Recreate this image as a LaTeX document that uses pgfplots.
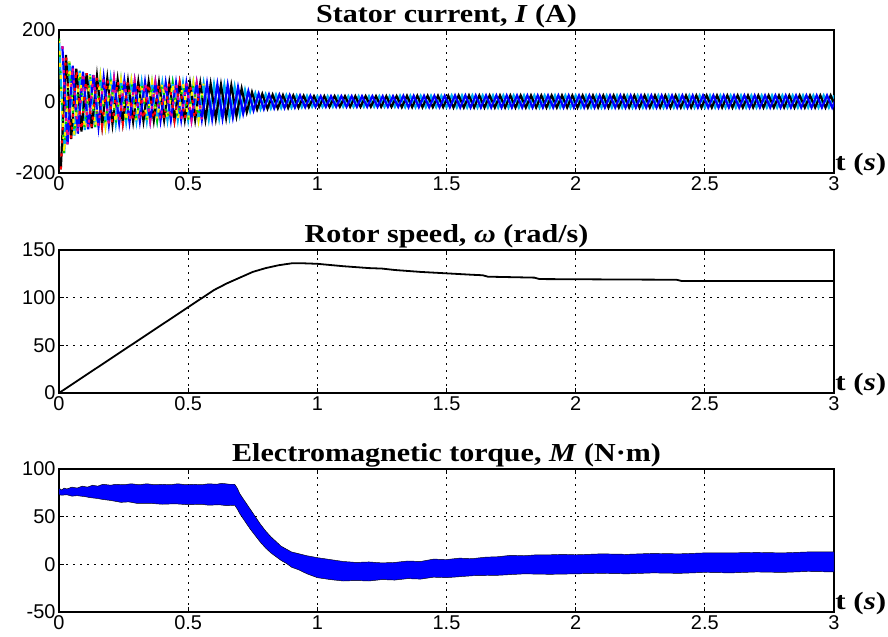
\documentclass[border=0pt]{standalone}
\usepackage{pgfplots}
\pgfplotsset{compat=1.18}
\usepackage{pgfplotstable}
\usepackage{fontspec}
\setmainfont{Liberation Serif}
\setsansfont{Liberation Sans}

% stator current, three phases: ta a tb b tc c
\pgfplotstableread[row sep=\\]{
ta a tb b tc c\\
0.00 175 0.013 155 0.007 -190\\ 0.02 -145 0.033 -120 0.027 130\\ 0.04 112 0.053 100 0.047 -105\\
0.06 -95 0.073 -90 0.067 92\\ 0.08 86 0.093 83 0.087 -84\\ 0.10 -80 0.113 -78 0.107 79\\
0.12 76 0.133 74 0.127 -75\\ 0.14 -72 0.153 -70 0.147 71\\ 0.16 68 0.173 67 0.167 -67\\
0.18 -65 0.193 -64 0.187 65\\ 0.20 63 0.213 62 0.207 -63\\ 0.22 -61 0.233 -60 0.227 61\\
0.24 59 0.253 58 0.247 -59\\ 0.26 -57 0.273 -57 0.267 57\\ 0.28 56 0.293 56 0.287 -56\\
0.30 -55 0.313 -55 0.307 55\\ 0.32 54 0.333 54 0.327 -54\\ 0.34 -54 0.353 -54 0.347 54\\
0.36 53 0.373 53 0.367 -53\\ 0.38 -53 0.393 -53 0.387 53\\ 0.40 52 0.413 52 0.407 -52\\
0.42 -52 0.433 -52 0.427 52\\ 0.44 52 0.453 52 0.447 -52\\ 0.46 -51 0.473 -51 0.467 51\\
0.48 51 0.493 51 0.487 -51\\ 0.50 -51 0.513 -51 0.507 51\\ 0.52 51 0.533 51 0.527 -51\\
0.54 -51 0.553 -50 0.547 51\\ 0.56 50 0.573 50 0.567 -50\\ 0.58 -49 0.593 -49 0.587 49\\
0.60 48 0.613 48 0.607 -48\\ 0.62 -47 0.633 -47 0.627 47\\ 0.64 46 0.653 46 0.647 -46\\
0.66 -45 0.673 -44 0.667 45\\ 0.68 42 0.693 40 0.687 -41\\ 0.70 -38 0.713 -34 0.707 36\\
0.72 32 0.733 29 0.727 -30\\ 0.74 -27 0.753 -25 0.747 26\\ 0.76 23 0.773 22 0.767 -22\\
0.78 -21 0.793 -21 0.787 21\\ 0.80 20 0.813 20 0.807 -20\\ 0.82 -19 0.833 -19 0.827 19\\
0.84 19 0.853 19 0.847 -19\\ 0.86 -18 0.873 -18 0.867 18\\ 0.88 18 0.893 18 0.887 -18\\
0.90 -17 0.913 -17 0.907 17\\ 0.92 17 0.933 17 0.927 -17\\ 0.94 -16 0.953 -16 0.947 16\\
0.96 16 0.973 16 0.967 -16\\ 0.98 -15 0.993 -15 0.987 15\\ 1.00 15 1.013 15 1.007 -15\\
1.02 -15 1.033 -15 1.027 15\\ 1.04 15 1.053 15 1.047 -15\\ 1.06 -15 1.073 -15 1.067 15\\
1.08 15 1.093 15 1.087 -15\\ 1.10 -15 1.113 -15 1.107 15\\ 1.12 15 1.133 15 1.127 -15\\
1.14 -15 1.153 -15 1.147 15\\ 1.16 15 1.173 15 1.167 -15\\ 1.18 -15 1.193 -15 1.187 15\\
1.20 15 1.213 15 1.207 -15\\ 1.22 -15 1.233 -15 1.227 15\\ 1.24 15 1.253 15 1.247 -15\\
1.26 -15 1.273 -15 1.267 15\\ 1.28 15 1.293 15 1.287 -15\\ 1.30 -15 1.313 -15 1.307 15\\
1.32 16 1.333 16 1.327 -16\\ 1.34 -16 1.353 -16 1.347 16\\ 1.36 16 1.373 16 1.367 -16\\
1.38 -16 1.393 -16 1.387 16\\ 1.40 16 1.413 16 1.407 -16\\ 1.42 -16 1.433 -16 1.427 16\\
1.44 16 1.453 16 1.447 -16\\ 1.46 -16 1.473 -16 1.467 16\\ 1.48 16 1.493 16 1.487 -16\\
1.50 -16 1.513 -16 1.507 16\\ 1.52 17 1.533 17 1.527 -17\\ 1.54 -17 1.553 -17 1.547 17\\
1.56 17 1.573 17 1.567 -17\\ 1.58 -17 1.593 -17 1.587 17\\ 1.60 17 1.613 17 1.607 -17\\
1.62 -17 1.633 -17 1.627 17\\ 1.64 17 1.653 17 1.647 -17\\ 1.66 -17 1.673 -17 1.667 17\\
1.68 17 1.693 17 1.687 -17\\ 1.70 -17 1.713 -17 1.707 17\\ 1.72 17 1.733 17 1.727 -17\\
1.74 -17 1.753 -17 1.747 17\\ 1.76 17 1.773 17 1.767 -17\\ 1.78 -17 1.793 -17 1.787 17\\
1.80 17 1.813 17 1.807 -17\\ 1.82 -17 1.833 -17 1.827 17\\ 1.84 17 1.853 17 1.847 -17\\
1.86 -17 1.873 -17 1.867 17\\ 1.88 17 1.893 17 1.887 -17\\ 1.90 -17 1.913 -17 1.907 17\\
1.92 17 1.933 17 1.927 -17\\ 1.94 -17 1.953 -17 1.947 17\\ 1.96 17 1.973 17 1.967 -17\\
1.98 -17 1.993 -17 1.987 17\\ 2.00 17 2.013 17 2.007 -17\\ 2.02 -17 2.033 -17 2.027 17\\
2.04 17 2.053 17 2.047 -17\\ 2.06 -17 2.073 -17 2.067 17\\ 2.08 17 2.093 17 2.087 -17\\
2.10 -17 2.113 -17 2.107 17\\ 2.12 17 2.133 17 2.127 -17\\ 2.14 -17 2.153 -17 2.147 17\\
2.16 17 2.173 17 2.167 -17\\ 2.18 -17 2.193 -17 2.187 17\\ 2.20 17 2.213 17 2.207 -17\\
2.22 -17 2.233 -17 2.227 17\\ 2.24 17 2.253 17 2.247 -17\\ 2.26 -17 2.273 -17 2.267 17\\
2.28 17 2.293 17 2.287 -17\\ 2.30 -17 2.313 -17 2.307 17\\ 2.32 17 2.333 17 2.327 -17\\
2.34 -17 2.353 -17 2.347 17\\ 2.36 17 2.373 17 2.367 -17\\ 2.38 -17 2.393 -17 2.387 17\\
2.40 17 2.413 17 2.407 -17\\ 2.42 -17 2.433 -17 2.427 17\\ 2.44 17 2.453 17 2.447 -17\\
2.46 -17 2.473 -17 2.467 17\\ 2.48 17 2.493 17 2.487 -17\\ 2.50 -17 2.513 -17 2.507 17\\
2.52 17 2.533 17 2.527 -17\\ 2.54 -17 2.553 -17 2.547 17\\ 2.56 17 2.573 17 2.567 -17\\
2.58 -17 2.593 -17 2.587 17\\ 2.60 17 2.613 17 2.607 -17\\ 2.62 -17 2.633 -17 2.627 17\\
2.64 17 2.653 17 2.647 -17\\ 2.66 -17 2.673 -17 2.667 17\\ 2.68 17 2.693 17 2.687 -17\\
2.70 -17 2.713 -17 2.707 17\\ 2.72 17 2.733 17 2.727 -17\\ 2.74 -17 2.753 -17 2.747 17\\
2.76 17 2.773 17 2.767 -17\\ 2.78 -17 2.793 -17 2.787 17\\ 2.80 17 2.813 17 2.807 -17\\
2.82 -17 2.833 -17 2.827 17\\ 2.84 17 2.853 17 2.847 -17\\ 2.86 -17 2.873 -17 2.867 17\\
2.88 17 2.893 17 2.887 -17\\ 2.90 -17 2.913 -17 2.907 17\\ 2.92 17 2.933 17 2.927 -17\\
2.94 -17 2.953 -17 2.947 17\\ 2.96 17 2.973 17 2.967 -17\\ 2.98 -17 2.993 -17 2.987 17\\
3.00 17 3.013 17 3.007 -17\\
}\current

\pgfplotsset{
  mat/.style={
    scale only axis, width=775bp, height=143bp,
    xmin=0, xmax=3, xtick={0,0.5,1,1.5,2,2.5,3},
    grid=major, grid style={black, line width=1.2bp, dash pattern=on 1.5bp off 5.5bp},
    axis line style={line width=2bp},
    tick style={black, line width=1.2bp}, major tick length=5bp, tick align=inside,
    tick label style={font=\sffamily\fontsize{20}{21}\selectfont},
    /pgf/number format/assume math mode=true,
    title style={at={(0.5,1)}, anchor=base, yshift=2bp, inner sep=0pt, xscale=1.16,
      font=\bfseries\fontsize{26}{27}\selectfont},
    clip mode=individual,
    after end axis/.code={
      \node[anchor=west, inner sep=0pt, xshift=1bp, yshift=8bp, xscale=1.25,
        font=\bfseries\fontsize{25}{26}\selectfont]
        at (rel axis cs:1,0) {t (\textit{s})};
    },
  },
}

\begin{document}
\begin{tikzpicture}[x=1bp, y=1bp]
\useasboundingbox (0,0) rectangle (888,637);

\begin{axis}[mat, at={(59bp,464bp)}, anchor=south west,
  ymin=-200, ymax=200, ytick={-200,0,200},
  title={Stator current, \textit{I} (A)}]
\addplot[cyan, line width=2.2bp] table[x=ta, y=a] {\current};
\addplot[black, line width=2.2bp] table[x=tc, y=c] {\current};
\addplot[blue, line width=2.2bp] table[x=tb, y=b] {\current};
\addplot[yellow, line width=2.2bp, dash pattern=on 4bp off 8bp, restrict x to domain=0:0.56] table[x=ta, y=a] {\current};
\addplot[magenta, line width=2.2bp, dash pattern=on 3bp off 9bp, restrict x to domain=0:0.56] table[x=tb, y=b] {\current};
\addplot[red, line width=2.2bp, dash pattern=on 3bp off 10bp, restrict x to domain=0:0.56] table[x=tc, y=c] {\current};
\addplot[green!80!black, line width=2bp, dash pattern=on 2bp off 14bp, restrict x to domain=0:0.56] table[x=ta, y=a] {\current};
\end{axis}

\begin{axis}[mat, at={(59bp,244bp)}, anchor=south west,
  ymin=0, ymax=150, ytick={0,50,100,150},
  title={Rotor speed, \textit{ω} (rad/s)}]
\addplot[black, line width=1.8bp] coordinates {
  (0,0) (0.1,18) (0.2,36) (0.3,54) (0.4,72) (0.5,90) (0.6,108) (0.65,115)
  (0.7,121) (0.75,127) (0.8,131) (0.85,134) (0.9,136) (0.95,136) (1.0,135.5)
  (1.1,133) (1.2,131) (1.25,130.5) (1.3,129) (1.4,127) (1.5,125.5) (1.6,124)
  (1.64,123.5) (1.66,122) (1.75,121.5) (1.84,121) (1.86,119.5) (2.0,119.3)
  (2.2,119) (2.39,118.8) (2.41,117.5) (3.0,117.5)
};
\end{axis}

\begin{axis}[mat, at={(59bp,25bp)}, anchor=south west,
  ymin=-50, ymax=100, ytick={-50,0,50,100},
  title={Electromagnetic torque, \textit{M} (N·m)}]
\addplot[fill=blue, draw=black, line width=0.45bp] coordinates {
  (0,80) (0.01,78) (0.02,80) (0.03,79) (0.05,81) (0.07,80) (0.09,82) (0.11,81)
  (0.13,83) (0.15,82) (0.17,84) (0.2,83) (0.22,84) (0.25,83.5) (0.28,84.5) (0.31,83.5)
  (0.34,84.5) (0.37,83.5) (0.4,84) (0.43,83.5) (0.46,84.5) (0.49,83.5) (0.52,84) (0.55,83.5)
  (0.58,84.5) (0.61,84) (0.63,85) (0.66,84) (0.68,84) (0.69,80) (0.70,74) (0.72,66)
  (0.74,58) (0.76,50) (0.78,42) (0.80,35) (0.82,29) (0.84,24) (0.86,19) (0.88,16)
  (0.90,13) (0.93,11) (0.96,9) (1.0,7) (1.05,5) (1.1,3) (1.15,2) (1.2,2.5) (1.25,1.5)
  (1.3,2) (1.35,3.5) (1.4,3) (1.45,5.5) (1.5,5) (1.55,6.5) (1.6,6) (1.65,7.5) (1.7,8)
  (1.75,9.5) (1.8,9) (1.85,10) (1.9,10) (1.95,10.5) (2.0,10) (2.1,11) (2.2,10.5)
  (2.3,11.5) (2.4,11) (2.5,12) (2.6,12) (2.7,12.5) (2.8,12) (2.9,13) (3.0,13)
  (3.0,-8) (2.9,-7.5) (2.8,-8.5) (2.7,-8) (2.6,-9) (2.5,-8.5) (2.4,-9.5) (2.3,-9)
  (2.2,-10) (2.1,-9.5) (2.0,-10) (1.9,-10.5) (1.8,-10) (1.7,-11.5) (1.6,-12) (1.5,-14)
  (1.45,-13.5) (1.4,-15.5) (1.35,-15) (1.3,-16.5) (1.25,-16) (1.2,-17.5) (1.15,-17)
  (1.1,-17.5) (1.05,-16) (1.0,-14) (0.96,-10) (0.93,-6) (0.90,-3) (0.88,1) (0.86,4)
  (0.84,8) (0.82,12) (0.80,17) (0.78,23) (0.76,30) (0.74,37) (0.72,45) (0.70,53)
  (0.69,58) (0.68,62) (0.65,61.5) (0.62,62.5) (0.58,62) (0.55,63) (0.5,62.5) (0.45,63.5)
  (0.4,63) (0.35,64) (0.3,64) (0.27,65.5) (0.24,65) (0.2,67) (0.17,68) (0.15,69)
  (0.12,70) (0.1,71) (0.07,72) (0.05,71.5) (0.03,73) (0.01,72.5) (0,73)
} -- cycle;
\end{axis}
\end{tikzpicture}
\end{document}
